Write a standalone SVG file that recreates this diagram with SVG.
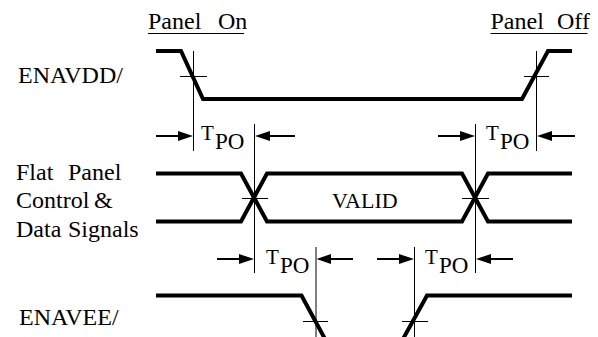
<svg xmlns="http://www.w3.org/2000/svg" width="598" height="337" viewBox="0 0 598 337">
<style>
text{font-family:"Liberation Serif",Tinos,"Times New Roman","DejaVu Serif",serif;fill:#000}
.lbl{font-size:24px}
.t{font-size:21px}
.p{font-size:23px}
.sig{fill:none;stroke:#000;stroke-width:4;stroke-linejoin:miter}
.thin{stroke:#000;stroke-width:1;fill:none}
.shaft{stroke:#000;stroke-width:2;fill:none}
.head{fill:#000;stroke:none}
</style>
<rect width="598" height="337" fill="#fff"/>
<g id="headers">
<text class="lbl" x="148" y="29">Panel</text><text class="lbl" x="218" y="29">On</text>
<line class="thin" x1="148" y1="33.5" x2="244" y2="33.5"/>
<text class="lbl" x="490.5" y="29">Panel</text><text class="lbl" x="557" y="29">Off</text>
<line class="thin" x1="490.5" y1="33.5" x2="587.5" y2="33.5"/>
</g>
<g id="labels">
<text class="lbl" x="18" y="83">ENAVDD/</text>
<text class="lbl" x="16" y="180">Flat</text><text class="lbl" x="68" y="180">Panel</text>
<text class="lbl" x="16" y="208">Control</text><text class="lbl" x="94" y="208">&amp;</text>
<text class="lbl" x="16" y="237">Data</text><text class="lbl" x="68" y="237">Signals</text>
<text class="lbl" x="19" y="325">ENAVEE/</text>
</g>
<g id="enavdd">
<polyline class="sig" points="156,51 181,51 203,99 522,99 548,51 572,51"/>
</g>
<g id="data">
<polyline class="sig" points="156,173.5 241,173.5 267,221.5 462,221.5 488,173.5 572,173.5"/>
<polyline class="sig" points="156,221.5 241,221.5 267,173.5 462,173.5 488,221.5 572,221.5"/>
<text x="332" y="207.5" font-size="22">VALID</text>
</g>
<g id="enavee">
<polyline class="sig" points="156,295.5 301.5,295.5 325,339"/>
<polyline class="sig" points="403,339 427,295.5 572,295.5"/>
</g>
<g id="connectors">
<line class="thin" x1="193.5" y1="51" x2="193.5" y2="151"/>
<line class="thin" x1="180" y1="76.5" x2="207" y2="76.5"/>
<line class="thin" x1="536.5" y1="51" x2="536.5" y2="151"/>
<line class="thin" x1="524" y1="76.5" x2="549" y2="76.5"/>
<line class="thin" x1="254.5" y1="124" x2="254.5" y2="273"/>
<line class="thin" x1="242" y1="198.5" x2="268" y2="198.5"/>
<line class="thin" x1="475.5" y1="124" x2="475.5" y2="273"/>
<line class="thin" x1="462" y1="198.5" x2="489" y2="198.5"/>
<line class="thin" x1="316" y1="247" x2="316" y2="337"/>
<line class="thin" x1="303" y1="321.5" x2="328" y2="321.5"/>
<line class="thin" x1="414.5" y1="247" x2="414.5" y2="337"/>
<line class="thin" x1="402" y1="321.5" x2="428" y2="321.5"/>
<line class="shaft" x1="156" y1="136" x2="180" y2="136"/><polygon class="head" points="178,131 193,136 178,141"/>
<line class="shaft" x1="295" y1="136" x2="268" y2="136"/><polygon class="head" points="270,131 255,136 270,141"/>
<line class="shaft" x1="438" y1="136" x2="462" y2="136"/><polygon class="head" points="460,131 475,136 460,141"/>
<line class="shaft" x1="575" y1="136" x2="550" y2="136"/><polygon class="head" points="552,131 537,136 552,141"/>
<line class="shaft" x1="217" y1="259" x2="241" y2="259"/><polygon class="head" points="239,254 254,259 239,264"/>
<line class="shaft" x1="353" y1="259" x2="329" y2="259"/><polygon class="head" points="331,254 316.5,259 331,264"/>
<line class="shaft" x1="377" y1="259" x2="401" y2="259"/><polygon class="head" points="399,254 414,259 399,264"/>
<line class="shaft" x1="513" y1="259" x2="489" y2="259"/><polygon class="head" points="491,254 476,259 491,264"/>
</g>
<g id="tpo-labels">
<text class="t" x="201" y="140">T</text><text class="p" x="215" y="148.5">PO</text>
<text class="t" x="486" y="140">T</text><text class="p" x="500" y="148.5">PO</text>
<text class="t" x="266" y="264">T</text><text class="p" x="280" y="272.5">PO</text>
<text class="t" x="425" y="264">T</text><text class="p" x="439" y="272.5">PO</text>
</g>
</svg>
